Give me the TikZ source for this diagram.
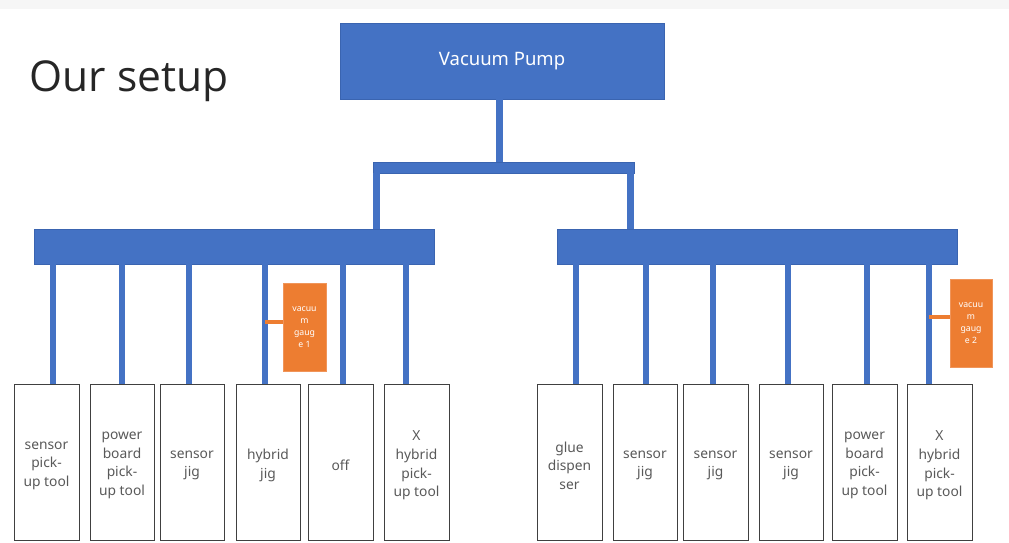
\documentclass[tikz,border=0pt]{standalone}
\usepackage{fontspec}
\setmainfont{Noto Sans}
\newfontfamily\titlefont{Open Sans}
\definecolor{pblue}{HTML}{4472C4}
\definecolor{pblueline}{HTML}{3A64B0}
\definecolor{porange}{HTML}{ED7D31}
\definecolor{porangeline}{HTML}{F0955A}
\definecolor{txtgray}{HTML}{595959}
\definecolor{topband}{HTML}{F6F6F6}
\begin{document}
\begin{tikzpicture}[x=1pt,y=-1pt,
  bluebox/.style={rectangle, fill=pblue, draw=pblueline, line width=0.6pt, inner sep=0pt},
  toolbox/.style={rectangle, draw=black!75, line width=1pt, fill=white, minimum height=156, inner sep=0pt},
  tooltext/.style={inner sep=0pt, align=center, font=\fontsize{13.8}{18.6}\selectfont, text=txtgray},
  gauge/.style={rectangle, fill=porange, draw=porangeline, line width=0.6pt, minimum height=88, inner sep=0pt, align=center, text=white, font=\fontsize{8.7}{11.8}\selectfont},
  pipe/.style={draw=pblue, line width=6pt},
  tap/.style={draw=porange, line width=3.5pt}]
\path[use as bounding box] (0,0) rectangle (1009,542);
\fill[white] (0,0) rectangle (1009,542);
\fill[topband] (0,0) rectangle (1009,9);

\node[anchor=west, font=\titlefont\fontsize{42.5}{50}\selectfont, text=black!85] (title) at (26,81) {Our setup};

\node[bluebox, minimum width=324, minimum height=76, text=white, font=\fontsize{18.5}{22}\selectfont] (pump) at (502,61) {Vacuum Pump};
\node[bluebox, minimum width=261, minimum height=11] (hbar) at (503.5,167.5) {};
\node[bluebox, minimum width=400, minimum height=35] (lman) at (234,246.5) {};
\node[bluebox, minimum width=400, minimum height=35] (rman) at (757,246.5) {};

% left tools
\node[toolbox, minimum width=65] (b1) at (46.5,462) {};
\node[toolbox, minimum width=64] (b2) at (122,462) {};
\node[toolbox, minimum width=64] (b3) at (192,462) {};
\node[toolbox, minimum width=64] (b4) at (268,462) {};
\node[toolbox, minimum width=65] (b5) at (340.5,462) {};
\node[toolbox, minimum width=65] (b6) at (416.5,462) {};
% right tools
\node[toolbox, minimum width=65] (c1) at (569.5,462) {};
\node[toolbox, minimum width=64] (c2) at (645,462) {};
\node[toolbox, minimum width=65] (c3) at (715.5,462) {};
\node[toolbox, minimum width=64] (c4) at (791,462) {};
\node[toolbox, minimum width=65] (c5) at (864.5,462) {};
\node[toolbox, minimum width=65] (c6) at (939.5,462) {};

\node[tooltext] (b1t) at ([yshift=-3.5pt]b1.center) {sensor\\pick-\\up tool};
\node[tooltext] (b2t) at ([yshift=-3.5pt]b2.center) {power\\board\\pick-\\up tool};
\node[tooltext] (b3t) at ([yshift=-3.5pt]b3.center) {sensor\\jig};
\node[tooltext] (b4t) at ([yshift=-3.5pt]b4.center) {hybrid\\jig};
\node[tooltext] (b5t) at ([yshift=-3.5pt]b5.center) {off};
\node[tooltext] (b6t) at ([yshift=-3.5pt]b6.center) {X\\hybrid\\pick-\\up tool};
\node[tooltext] (c1t) at ([yshift=-3.5pt]c1.center) {glue\\dispen\\ser};
\node[tooltext] (c2t) at ([yshift=-3.5pt]c2.center) {sensor\\jig};
\node[tooltext] (c3t) at ([yshift=-3.5pt]c3.center) {sensor\\jig};
\node[tooltext] (c4t) at ([yshift=-3.5pt]c4.center) {sensor\\jig};
\node[tooltext] (c5t) at ([yshift=-3.5pt]c5.center) {power\\board\\pick-\\up tool};
\node[tooltext] (c6t) at ([yshift=-3.5pt]c6.center) {X\\hybrid\\pick-\\up tool};

% gauges
\node[gauge, minimum width=43] (g1) at (304.5,327) {vacuu\\m\\gaug\\e 1};
\node[gauge, minimum width=42] (g2) at (971,323) {vacuu\\m\\gaug\\e 2};

% trunk
\coordinate (stem) at ([xshift=-3]pump.south);
\draw[pipe, line width=7pt] (stem) -- (stem |- hbar.north);
\coordinate (lv) at ([xshift=3.5]hbar.south west);
\coordinate (rv) at ([xshift=-3.5]hbar.south east);
\draw[pipe, line width=7pt] (lv) -- (lv |- lman.north);
\draw[pipe, line width=7pt] (rv) -- (rv |- rman.north);

% branch pipes
\coordinate (p1) at ([xshift=6.5]b1.north);
\coordinate (p2) at ([xshift=0]b2.north);
\coordinate (p3) at ([xshift=-3]b3.north);
\coordinate (p4) at ([xshift=-3]b4.north);
\coordinate (p5) at ([xshift=2.5]b5.north);
\coordinate (p6) at ([xshift=-10.5]b6.north);
\coordinate (q1) at ([xshift=6.5]c1.north);
\coordinate (q2) at ([xshift=1]c2.north);
\coordinate (q3) at ([xshift=-2.5]c3.north);
\coordinate (q4) at ([xshift=-3]c4.north);
\coordinate (q5) at ([xshift=2.5]c5.north);
\coordinate (q6) at ([xshift=-10.5]c6.north);
\foreach \p in {p1,p2,p3,p4,p5,p6} \draw[pipe] (lman.south -| \p) -- (\p);
\foreach \q in {q1,q2,q3,q4,q5,q6} \draw[pipe] (rman.south -| \q) -- (\q);

% gauge taps
\coordinate (t1) at ([yshift=5]g1.west);
\draw[tap] (t1 -| p4) -- (t1);
\coordinate (t2) at ([yshift=6]g2.west);
\draw[tap] (t2 -| q6) -- (t2);
\end{tikzpicture}
\end{document}
